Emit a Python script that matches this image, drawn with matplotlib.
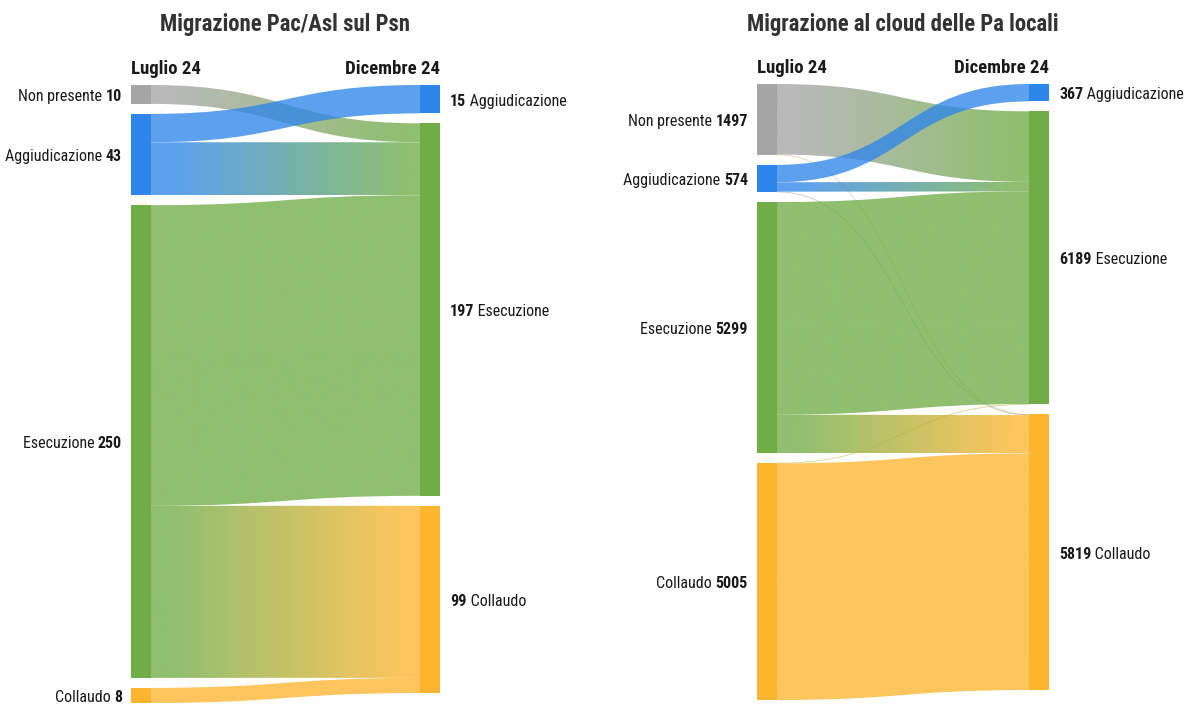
import matplotlib
matplotlib.use("Agg")
import matplotlib.pyplot as plt
import numpy as np
from matplotlib.path import Path
from matplotlib.patches import PathPatch, Rectangle
from matplotlib.colors import to_rgb

plt.rcParams['font.family'] = ['Roboto Condensed', 'Roboto', 'DejaVu Sans']

# ---- data ----
left_title = "Migrazione Pac/Asl sul Psn"
left_src_names = ['Non presente', 'Aggiudicazione', 'Esecuzione', 'Collaudo']
left_src_vals = [10, 43, 250, 8]
left_tgt_names = ['Aggiudicazione', 'Esecuzione', 'Collaudo']
left_tgt_vals = [15, 197, 99]
left_flows = [('Non presente', 'Esecuzione', 10),
              ('Aggiudicazione', 'Aggiudicazione', 15),
              ('Aggiudicazione', 'Esecuzione', 28),
              ('Esecuzione', 'Esecuzione', 159),
              ('Esecuzione', 'Collaudo', 91),
              ('Collaudo', 'Collaudo', 8)]

right_title = "Migrazione al cloud delle Pa locali"
right_src_names = ['Non presente', 'Aggiudicazione', 'Esecuzione', 'Collaudo']
right_src_vals = [1497, 574, 5299, 5005]
right_tgt_names = ['Aggiudicazione', 'Esecuzione', 'Collaudo']
right_tgt_vals = [367, 6189, 5819]
right_flows = [('Non presente', 'Esecuzione', 1490),
               ('Non presente', 'Collaudo', 7),
               ('Aggiudicazione', 'Aggiudicazione', 367),
               ('Aggiudicazione', 'Esecuzione', 200),
               ('Aggiudicazione', 'Collaudo', 7),
               ('Esecuzione', 'Esecuzione', 4490),
               ('Esecuzione', 'Collaudo', 809),
               ('Collaudo', 'Esecuzione', 9),
               ('Collaudo', 'Collaudo', 4996)]

colors = {'Non presente': '#a5a5a5', 'Aggiudicazione': '#2e86ea',
          'Esecuzione': '#70ad47', 'Collaudo': '#fdb52f'}
txt = '#1a1a1a'

W, H = 1189, 704
fig = plt.figure(figsize=(W / 100, H / 100), dpi=100)


def node_positions(vals, gap):
    pos, y = [], 0.0
    for v in vals:
        pos.append(y)
        y += v + gap
    return pos


def draw_sankey(box, title, src_names, src_vals, tgt_names, tgt_vals, flows):
    x0, x1, ytop, hpx = box
    ax = fig.add_axes([x0 / W, 1 - (ytop + hpx) / H, (x1 - x0) / W, hpx / H])
    ax.axis('off')
    total = sum(src_vals)
    gap = 0.017 * total
    span = total + (len(src_vals) - 1) * gap
    ppu = hpx / span
    nw = 20 / (x1 - x0)

    spos = dict(zip(src_names, node_positions(src_vals, gap)))
    tpos = dict(zip(tgt_names, node_positions(tgt_vals, gap)))

    # link offsets inside the nodes
    s_off = dict(spos)
    t_off = dict(tpos)
    s_start, t_start = {}, {}
    for f in sorted(flows, key=lambda f: (src_names.index(f[0]), tgt_names.index(f[1]))):
        s_start[f] = s_off[f[0]]
        s_off[f[0]] += f[2]
    for f in sorted(flows, key=lambda f: (tgt_names.index(f[1]), src_names.index(f[0]))):
        t_start[f] = t_off[f[1]]
        t_off[f[1]] += f[2]

    xa, xb = nw, 1 - nw
    xm = (xa + xb) / 2
    for f in flows:
        s, t, v = f
        ya0, yb0 = s_start[f], t_start[f]
        ya1, yb1 = ya0 + v, yb0 + v
        c1, c2 = np.array(to_rgb(colors[s])), np.array(to_rgb(colors[t]))
        if v * ppu < 1.5:
            # very thin flows: just a faint curve
            ts = np.linspace(0, 1, 60)
            yc0, yc1 = (ya0 + ya1) / 2, (yb0 + yb1) / 2
            bx = (1 - ts) ** 3 * xa + 3 * (1 - ts) ** 2 * ts * xm + 3 * (1 - ts) * ts ** 2 * xm + ts ** 3 * xb
            by = (1 - ts) ** 3 * yc0 + 3 * (1 - ts) ** 2 * ts * yc0 + 3 * (1 - ts) * ts ** 2 * yc1 + ts ** 3 * yc1
            ax.plot(bx, by, color=c1 * 0.5 + c2 * 0.5, lw=0.6, alpha=0.55, zorder=2)
            continue
        verts = [(xa, ya0), (xm, ya0), (xm, yb0), (xb, yb0),
                 (xb, yb1), (xm, yb1), (xm, ya1), (xa, ya1), (xa, ya0)]
        codes = [Path.MOVETO, Path.CURVE4, Path.CURVE4, Path.CURVE4,
                 Path.LINETO, Path.CURVE4, Path.CURVE4, Path.CURVE4, Path.CLOSEPOLY]
        patch = PathPatch(Path(verts, codes), facecolor='none', edgecolor='none',
                          transform=ax.transData)
        ax.add_patch(patch)
        g = np.linspace(0, 1, 256)[:, None]
        g = np.clip((g - 0.08) / 0.86, 0, 1)
        rgb = c1 * (1 - g) + c2 * g
        img = np.concatenate([rgb, np.full((256, 1), 0.78)], axis=1)[None, :, :]
        im = ax.imshow(img, extent=(xa, xb, max(ya1, yb1), min(ya0, yb0)),
                       aspect='auto', interpolation='bilinear', zorder=2)
        im.set_clip_path(patch)

    # nodes + labels
    for n, v in zip(src_names, src_vals):
        ax.add_patch(Rectangle((0, spos[n]), nw, v, color=colors[n], lw=0, zorder=3))
        t = ax.annotate(str(v), xy=(0, spos[n] + v / 2), xytext=(-9, -2),
                        textcoords='offset pixels', ha='right', va='center',
                        fontsize=11.5, fontweight='bold', color=txt)
        ax.annotate(n + ' ', xy=(0, 0.5), xycoords=t, ha='right', va='center',
                    fontsize=11.5, color=txt)
    for n, v in zip(tgt_names, tgt_vals):
        ax.add_patch(Rectangle((1 - nw, tpos[n]), nw, v, color=colors[n], lw=0, zorder=3))
        t = ax.annotate(str(v), xy=(1, tpos[n] + v / 2), xytext=(10, -2),
                        textcoords='offset pixels', ha='left', va='center',
                        fontsize=11.5, fontweight='bold', color=txt)
        ax.annotate(' ' + n, xy=(1, 0.5), xycoords=t, ha='left', va='center',
                    fontsize=11.5, color=txt)

    ax.set_xlim(0, 1)
    ax.set_ylim(span, 0)

    ax.annotate('Luglio 24', xy=(0, 0), xytext=(0, 16), textcoords='offset pixels',
                ha='left', va='center', fontsize=13.5, fontweight='bold', color=txt)
    ax.annotate('Dicembre 24', xy=(1, 0), xytext=(0, 16), textcoords='offset pixels',
                ha='right', va='center', fontsize=13.5, fontweight='bold', color=txt)
    fig.text((x0 + x1) / 2 / W, 1 - 25 / H, title, ha='center', va='center',
             fontsize=16.4, fontweight='bold', color='#333333')


draw_sankey((131, 440, 85, 618), left_title, left_src_names, left_src_vals,
            left_tgt_names, left_tgt_vals, left_flows)
draw_sankey((757, 1049, 84, 616), right_title, right_src_names, right_src_vals,
            right_tgt_names, right_tgt_vals, right_flows)

fig.savefig('out.png', dpi=100, facecolor='white')
